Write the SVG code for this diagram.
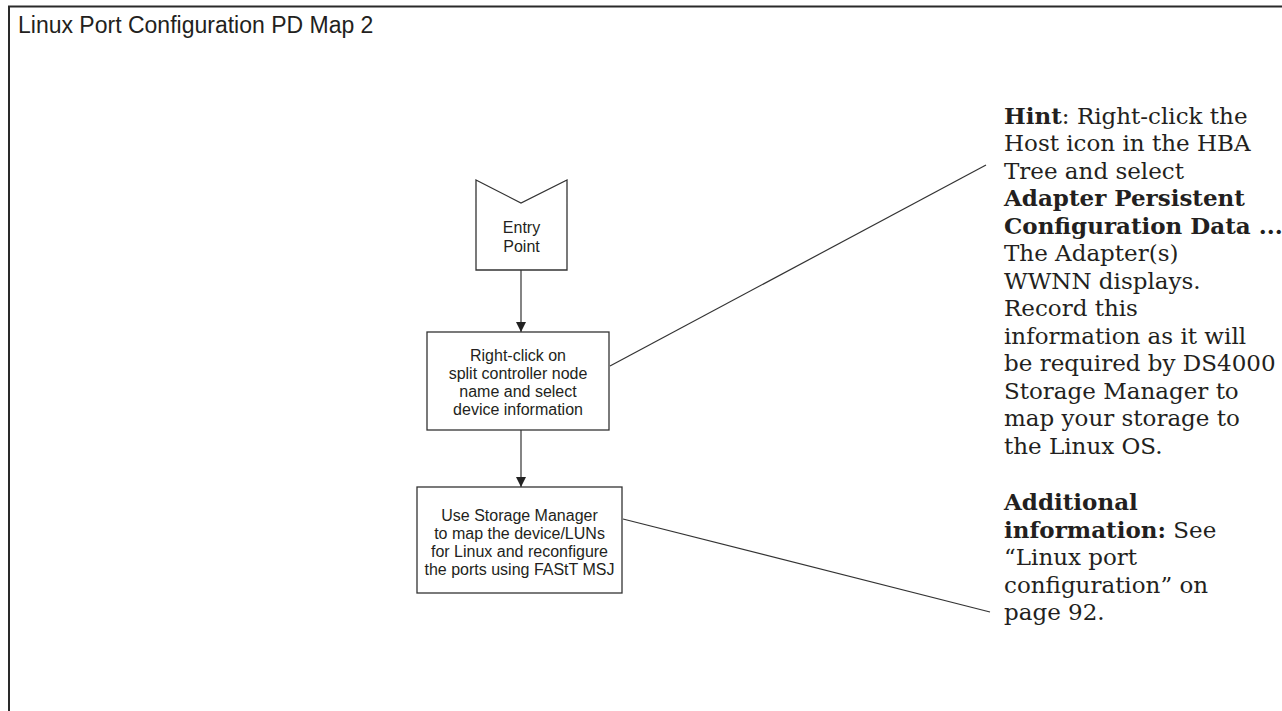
<svg xmlns="http://www.w3.org/2000/svg" width="1282" height="711" viewBox="0 0 1282 711">
  <style>
    .frame { fill: none; stroke: #2a2a2a; stroke-width: 2; }
    .shape { fill: #ffffff; stroke: #333333; stroke-width: 1.3; }
    .edge { fill: none; stroke: #333333; stroke-width: 1.2; }
    .lbl { font-family: "Liberation Sans", Arial, sans-serif; font-size: 16px; fill: #231f20; text-anchor: middle; }
    .title { font-family: "Liberation Sans", Arial, sans-serif; font-size: 23px; fill: #231f20; }
    .note { font-family: "DejaVu Serif", "Liberation Serif", serif; font-size: 23px; fill: #231f20; }
    .b { font-weight: bold; }
  </style>
  <defs>
    <marker id="arrow" markerWidth="10" markerHeight="10" refX="10" refY="5" orient="auto" markerUnits="userSpaceOnUse">
      <path d="M0,0 L10,5 L0,10 Z" fill="#222222"/>
    </marker>
  </defs>

  <rect width="1282" height="711" fill="#ffffff"/>

  <!-- page frame, open on the right and bottom -->
  <path class="frame" d="M9,711 L9,6.5 L1282,6.5"/>
  <text class="title" x="18" y="33">Linux Port Configuration PD Map 2</text>

  <!-- flow connectors and callout leaders -->
  <g id="connectors">
    <line class="edge" x1="521" y1="270" x2="521" y2="332" marker-end="url(#arrow)"/>
    <line class="edge" x1="521" y1="430" x2="521" y2="487" marker-end="url(#arrow)"/>
    <line class="edge" x1="610" y1="366" x2="986" y2="165"/>
    <line class="edge" x1="623" y1="519" x2="990" y2="612"/>
  </g>

  <g id="entry-point">
    <path class="shape" d="M476,180 L521,203 L567,180 L567,270 L476,270 Z"/>
    <text class="lbl" x="521.5" y="233">Entry</text>
    <text class="lbl" x="521.5" y="252">Point</text>
  </g>

  <g id="device-info">
    <rect class="shape" x="427" y="332" width="182" height="98"/>
    <text class="lbl" x="518" y="361">Right-click on</text>
    <text class="lbl" x="518" y="379">split controller node</text>
    <text class="lbl" x="518" y="397">name and select</text>
    <text class="lbl" x="518" y="415">device information</text>
  </g>

  <g id="map-luns">
    <rect class="shape" x="417" y="487" width="205" height="106"/>
    <text class="lbl" x="519.5" y="521">Use Storage Manager</text>
    <text class="lbl" x="519.5" y="539">to map the device/LUNs</text>
    <text class="lbl" x="519.5" y="557">for Linux and reconfigure</text>
    <text class="lbl" x="519.5" y="575">the ports using FAStT MSJ</text>
  </g>

  <g id="hint-note" class="note">
    <text x="1004" y="123.5"><tspan class="b">Hint</tspan>: Right-click the</text>
    <text x="1004" y="151">Host icon in the HBA</text>
    <text x="1004" y="178.5">Tree and select</text>
    <text x="1004" y="206" class="b">Adapter Persistent</text>
    <text x="1004" y="233.5" class="b">Configuration Data ...</text>
    <text x="1004" y="261">The Adapter(s)</text>
    <text x="1004" y="288.5">WWNN displays.</text>
    <text x="1004" y="316">Record this</text>
    <text x="1004" y="343.5">information as it will</text>
    <text x="1004" y="371">be required by DS4000</text>
    <text x="1004" y="398.5">Storage Manager to</text>
    <text x="1004" y="426">map your storage to</text>
    <text x="1004" y="453.5">the Linux OS.</text>
  </g>

  <g id="additional-note" class="note">
    <text x="1004" y="510" class="b">Additional</text>
    <text x="1004" y="537.5"><tspan class="b">information:</tspan> See</text>
    <text x="1004" y="565">“Linux port</text>
    <text x="1004" y="592.5">configuration” on</text>
    <text x="1004" y="620">page 92.</text>
  </g>
</svg>
